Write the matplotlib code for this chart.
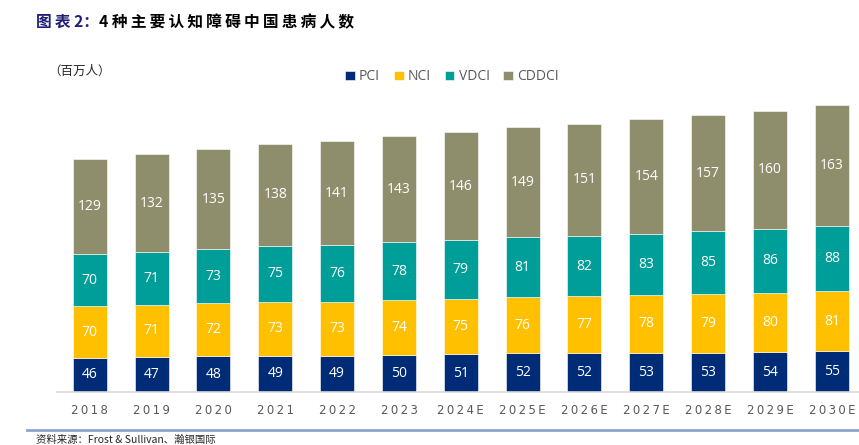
import matplotlib
matplotlib.use("Agg")
import matplotlib.pyplot as plt
import numpy as np

plt.rcParams['font.family'] = ['Noto Sans CJK SC', 'DejaVu Sans']

years = ["2018", "2019", "2020", "2021", "2022", "2023", "2024E", "2025E",
         "2026E", "2027E", "2028E", "2029E", "2030E"]
pci = [46, 47, 48, 49, 49, 50, 51, 52, 52, 53, 53, 54, 55]
nci = [70, 71, 72, 73, 73, 74, 75, 76, 77, 78, 79, 80, 81]
vdci = [70, 71, 73, 75, 76, 78, 79, 81, 82, 83, 85, 86, 88]
cddci = [129, 132, 135, 138, 141, 143, 146, 149, 151, 154, 157, 160, 163]

series = [("PCI", pci, "#002C77"), ("NCI", nci, "#FFC000"),
          ("VDCI", vdci, "#009E99"), ("CDDCI", cddci, "#8F8E6C")]

fig = plt.figure(figsize=(8.59, 4.45), dpi=100)
ax = fig.add_axes([57 / 859, 1 - 392 / 445, 1 - 57 / 859, (392 - 95) / 445])

x = np.arange(len(years))
bottom = np.zeros(len(years))
handles = []
for name, vals, col in series:
    vals = np.array(vals)
    b = ax.bar(x, vals, width=0.55, bottom=bottom, color=col, edgecolor="white",
               linewidth=0.4, label=name)
    handles.append(b)
    for xi, bt, v in zip(x, bottom, vals):
        ax.text(xi, bt + v / 2, str(v), ha="center", va="center", color="white",
                fontsize=10, family=["Open Sans", "DejaVu Sans"])
    bottom = bottom + vals

ax.set_xlim(-0.53, 12.44)
ax.set_ylim(0, 401)
for s in ["top", "right", "left"]:
    ax.spines[s].set_visible(False)
ax.spines["bottom"].set_color("#D9D9D9")
ax.spines["bottom"].set_linewidth(1.2)
ax.set_yticks([])
ax.set_xticks(x)
# 字间距稍宽
ax.set_xticklabels(["\u2009".join(y) for y in years], color="#595959", fontsize=8.5,
                   family=["DejaVu Sans"])
ax.tick_params(axis="x", length=0, pad=9)

fig.legend(handles=handles, loc="center", bbox_to_anchor=(452 / 859, 1 - 77 / 445),
           ncol=4, frameon=False, handlelength=0.7, handleheight=0.7,
           handletextpad=0.3, columnspacing=1.0,
           prop={"family": ["Open Sans", "DejaVu Sans"], "size": 10},
           labelcolor="#595959")

# 标题
sp = "\u2009"
t1 = fig.text(36 / 859, 1 - 22 / 445, sp.join("图表") + " 2：", color="#1F1F7A",
              fontsize=11.3, fontweight="bold", va="center")
fig.canvas.draw()
bb = t1.get_window_extent()
fig.text(bb.x1 / fig.bbox.width, 1 - 22 / 445,
         "4 " + sp.join("种主要认知障碍中国患病人数"),
         color="black", fontsize=11.3, fontweight="bold", va="center")

fig.text(48 / 859, 1 - 71 / 445, "（百万人）", fontsize=9, va="center", color="#262626")

fig.add_artist(plt.Line2D([27 / 859, 1], [1 - 430 / 445, 1 - 430 / 445],
                          color="#8EA4CE", linewidth=2))
fig.text(36 / 859, 1 - 440 / 445, "资料来源：Frost & Sullivan、瀚银国际", fontsize=7.5,
         va="center", color="#262626")

fig.savefig("out.png", dpi=100)
